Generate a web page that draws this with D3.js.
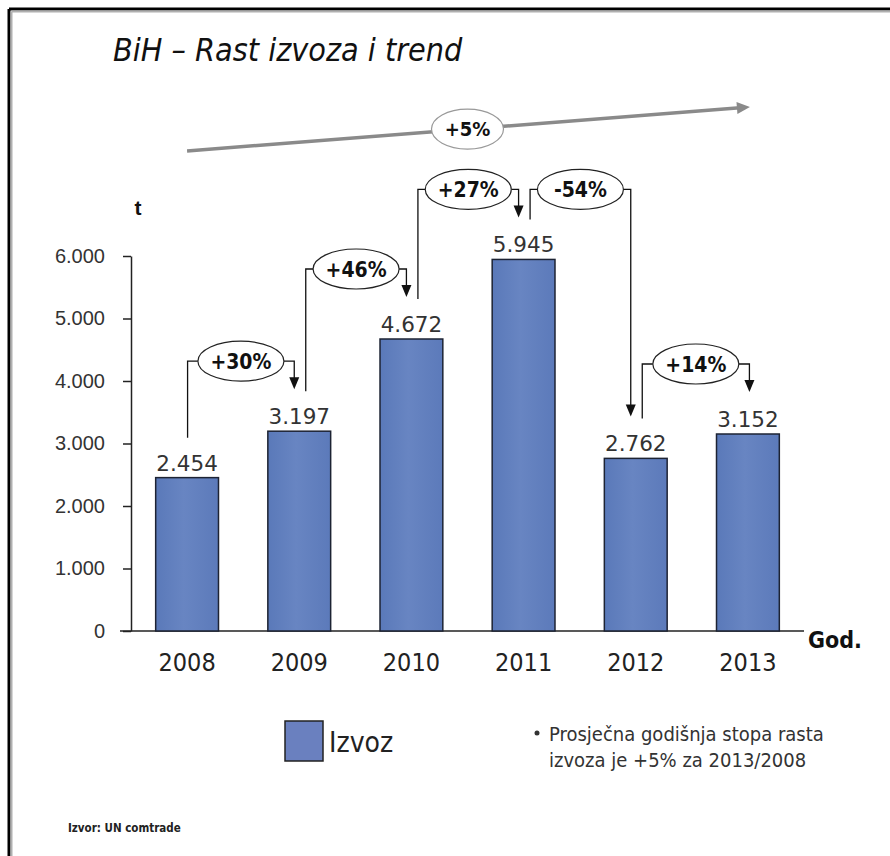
<!DOCTYPE html>
<html>
<head>
<meta charset="utf-8">
<script src="https://cdn.jsdelivr.net/npm/d3@7"></script>
<style>
  html, body { margin: 0; padding: 0; background: #fff; }
  svg { display: block; }
</style>
</head>
<body>
<svg id="chart" width="890" height="856"></svg>
<script>
// ---- Data ----
const years = ["2008", "2009", "2010", "2011", "2012", "2013"];
const exportValues = [2454, 3197, 4672, 5945, 2762, 3152];
const yTicks = [0, 1000, 2000, 3000, 4000, 5000, 6000];
const changeFrom = [0, 1, 2, 3, 4];
const changeTo = [1, 2, 3, 4, 5];
const changeLabels = ["+30%", "+46%", "+27%", "-54%", "+14%"];
const trendLabel = "+5%";
const titleText = "BiH \u2013 Rast izvoza i trend";
const legendLabel = "Izvoz";
const noteLines = ["Prosječna godišnja stopa rasta", "izvoza je +5% za 2013/2008"];
const sourceText = "Izvor: UN comtrade";

const svg = d3.select("#chart");
const narrow = "'DejaVu Sans Condensed', 'DejaVu Sans', sans-serif";
const condBold = "'DejaVu Sans Condensed', 'DejaVu Sans', sans-serif";

const loc = d3.formatLocale({decimal: ",", thousands: ".", grouping: [3], currency: ["", ""]});
const fmt = loc.format(",d");

// Frame
svg.append("line").attr("x1", 9).attr("y1", 9).attr("x2", 890).attr("y2", 9).attr("stroke", "#000").attr("stroke-width", 3);
svg.append("line").attr("x1", 9).attr("y1", 9).attr("x2", 9).attr("y2", 856).attr("stroke", "#000").attr("stroke-width", 3);
svg.append("line").attr("x1", 11.5).attr("y1", 11.5).attr("x2", 890).attr("y2", 11.5).attr("stroke", "#b0b0b0").attr("stroke-width", 2);
svg.append("line").attr("x1", 11.5).attr("y1", 11.5).attr("x2", 11.5).attr("y2", 856).attr("stroke", "#b0b0b0").attr("stroke-width", 2);

// Gradient for bars
const defs = svg.append("defs");
const grad = defs.append("linearGradient").attr("id", "barGrad").attr("x1", "0").attr("x2", "1").attr("y1", "0").attr("y2", "0");
grad.append("stop").attr("offset", "0%").attr("stop-color", "#5a79b9");
grad.append("stop").attr("offset", "45%").attr("stop-color", "#6885c2");
grad.append("stop").attr("offset", "100%").attr("stop-color", "#5c7aba");

// Title
svg.append("text").attr("x", 113).attr("y", 61).attr("font-family", narrow).attr("font-style", "italic")
  .attr("font-size", 32).attr("fill", "#111").text(titleText);

// Scales
const x = d3.scaleBand().domain(years).range([131, 804]).paddingInner(0.44).paddingOuter(0.22);
const y = d3.scaleLinear().domain([0, 6000]).range([631, 256]);

// Y axis
const yAxis = svg.append("g").attr("transform", "translate(131,0)")
  .call(d3.axisLeft(y).tickValues(yTicks).tickFormat(d => fmt(d)).tickSize(8).tickSizeOuter(0).tickPadding(18));
yAxis.select(".domain").attr("stroke", "#222").attr("stroke-width", 1.5);
yAxis.selectAll(".tick line").attr("stroke", "#222").attr("stroke-width", 1.5);
yAxis.selectAll(".tick text").attr("font-family", "'Liberation Sans', Arial, sans-serif").attr("font-size", 20).attr("fill", "#333");

// X axis line
svg.append("line").attr("x1", 120).attr("x2", 804).attr("y1", y(0)).attr("y2", y(0)).attr("stroke", "#222").attr("stroke-width", 1.5);
const xAxis = svg.append("g").attr("transform", `translate(0,${y(0)})`)
  .call(d3.axisBottom(x).tickSize(0).tickPadding(22));
xAxis.select(".domain").remove();
xAxis.selectAll(".tick text").attr("font-family", narrow).attr("font-size", 25).attr("fill", "#222");

// Axis titles
svg.append("text").attr("x", 138).attr("y", 215).attr("text-anchor", "middle").attr("font-family", "'Liberation Sans', Arial, sans-serif")
  .attr("font-weight", "bold").attr("font-size", 21).attr("fill", "#111").text("t");
svg.append("text").attr("x", 808).attr("y", 648).attr("font-family", condBold).attr("font-weight", "bold")
  .attr("font-size", 23).attr("fill", "#111").text("God.");

// Bars
svg.append("g").selectAll("rect").data(exportValues).join("rect")
  .attr("x", (d, i) => x(years[i])).attr("width", x.bandwidth())
  .attr("y", d => y(d)).attr("height", d => y(0) - y(d))
  .attr("fill", "url(#barGrad)").attr("stroke", "#1d2333").attr("stroke-width", 1.5);

// Value labels
svg.append("g").selectAll("text").data(exportValues).join("text")
  .attr("x", (d, i) => x(years[i]) + x.bandwidth() / 2).attr("y", d => y(d) - 7)
  .attr("text-anchor", "middle").attr("font-family", "'DejaVu Sans', sans-serif").attr("font-size", 21.5)
  .attr("fill", "#333").text(d => fmt(d));

// Change annotations
const cx = i => x(years[i]) + x.bandwidth() / 2;
const annG = svg.append("g");
changeFrom.forEach((f, k) => {
  const t = changeTo[k];
  const hasIn = changeTo.includes(f);
  const hasOut = changeFrom.includes(t);
  const xl = cx(f) + (hasIn ? 6.5 : 0.5);
  const xr = cx(t) + (hasOut ? -5 : 1.5);
  const yStart = y(exportValues[f]) - 40;
  const yTop = y(Math.max(exportValues[f], exportValues[t])) - 70;
  const yTip = y(exportValues[t]) - 42;
  const mid = (xl + xr) / 2;
  const rx = 43, ry = 20;
  annG.append("path")
    .attr("d", `M${xl},${yStart} V${yTop} H${mid - rx}`)
    .attr("fill", "none").attr("stroke", "#111").attr("stroke-width", 1.3);
  annG.append("path")
    .attr("d", `M${mid + rx},${yTop} H${xr} V${yTip - 11}`)
    .attr("fill", "none").attr("stroke", "#111").attr("stroke-width", 1.3);
  annG.append("path")
    .attr("d", `M${xr - 5},${yTip - 12} L${xr + 5},${yTip - 12} L${xr},${yTip} Z`).attr("fill", "#111");
  annG.append("ellipse").attr("cx", mid).attr("cy", yTop).attr("rx", rx).attr("ry", ry)
    .attr("fill", "#fff").attr("stroke", "#222").attr("stroke-width", 1.2);
  annG.append("text").attr("x", mid).attr("y", yTop + 7.5).attr("text-anchor", "middle")
    .attr("font-family", condBold).attr("font-weight", "bold").attr("font-size", 21).attr("fill", "#111")
    .text(changeLabels[k]);
});

// Trend arrow
const tx1 = cx(0), tx2 = cx(5) + 2;
const ty1 = 151, ty2 = 107;
svg.append("line").attr("x1", tx1).attr("y1", ty1).attr("x2", tx2 - 10).attr("y2", ty2 + 0.8)
  .attr("stroke", "#8a8a8a").attr("stroke-width", 3.5);
const ang = Math.atan2(ty2 - ty1, tx2 - tx1);
const ah = 13, aw = 6;
const bx = tx2 - ah * Math.cos(ang), by = ty2 - ah * Math.sin(ang);
svg.append("path").attr("d",
  `M${tx2},${ty2} L${bx - aw * Math.sin(ang)},${by + aw * Math.cos(ang)} L${bx + aw * Math.sin(ang)},${by - aw * Math.cos(ang)} Z`)
  .attr("fill", "#8a8a8a");
const tmx = cx(2) + (cx(3) - cx(2)) / 2;
const tmy = ty1 + (ty2 - ty1) * (tmx - tx1) / (tx2 - tx1);
svg.append("ellipse").attr("cx", tmx).attr("cy", tmy).attr("rx", 36).attr("ry", 20)
  .attr("fill", "#fff").attr("stroke", "#999").attr("stroke-width", 1.2);
svg.append("text").attr("x", tmx).attr("y", tmy + 7).attr("text-anchor", "middle")
  .attr("font-family", condBold).attr("font-weight", "bold").attr("font-size", 20).attr("fill", "#111").text(trendLabel);

// Legend
svg.append("rect").attr("x", 285).attr("y", 721).attr("width", 38).attr("height", 40)
  .attr("fill", "#6a80bf").attr("stroke", "#222").attr("stroke-width", 1.5);
svg.append("text").attr("x", 329).attr("y", 752).attr("font-family", narrow).attr("font-size", 28).attr("fill", "#222").text(legendLabel);

svg.append("circle").attr("cx", 537).attr("cy", 733).attr("r", 2.5).attr("fill", "#333");
svg.append("g").selectAll("text").data(noteLines).join("text")
  .attr("x", 549).attr("y", (d, i) => 741 + i * 26)
  .attr("font-family", narrow).attr("font-size", 20).attr("fill", "#333").text(d => d);

svg.append("text").attr("x", 68).attr("y", 832).attr("font-family", narrow).attr("font-weight", "bold")
  .attr("font-size", 11.5).attr("fill", "#222").text(sourceText);
</script>
</body>
</html>
